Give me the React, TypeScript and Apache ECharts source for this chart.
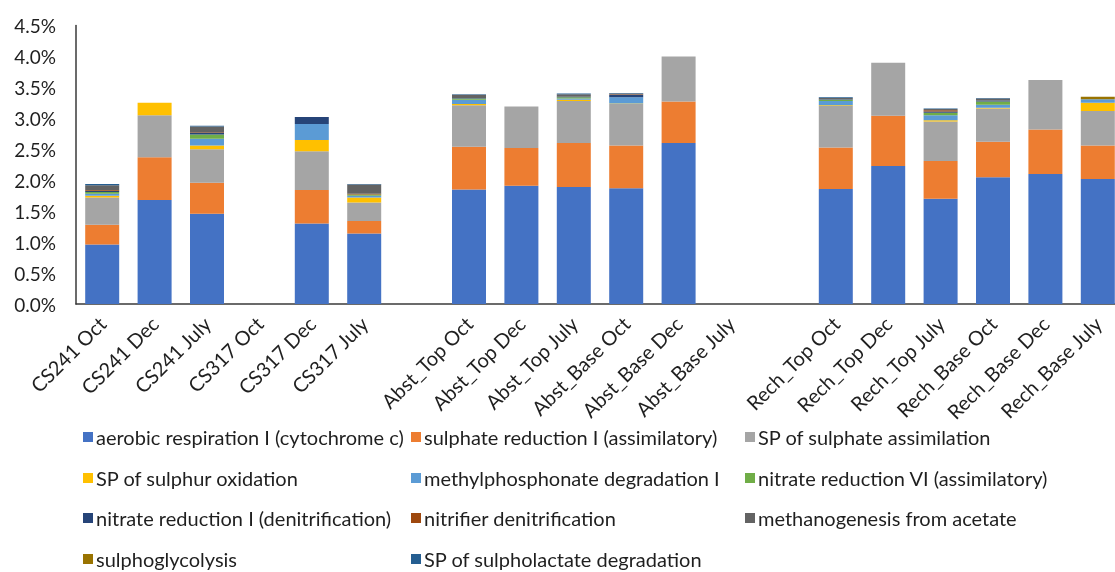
import React, { useEffect, useRef } from "react";
import * as echarts from "echarts";

const categories = [
  "CS241 Oct", "CS241 Dec", "CS241 July", "CS317 Oct", "CS317 Dec", "CS317 July", " ",
  "Abst_Top Oct", "Abst_Top Dec", "Abst_Top July", "Abst_Base Oct", "Abst_Base Dec", "Abst_Base July", "  ",
  "Rech_Top Oct", "Rech_Top Dec", "Rech_Top July", "Rech_Base Oct", "Rech_Base Dec", "Rech_Base July",
];

const yTicks = { min: 0, max: 4.5, interval: 0.5 };

const aerobic = [0.96, 1.68, 1.46, null, 1.30, 1.14, null, 1.85, 1.91, 1.89, 1.87, 2.60, null, null, 1.86, 2.23, 1.70, 2.05, 2.10, 2.02];
const sulphateReduction = [0.32, 0.69, 0.50, null, 0.54, 0.20, null, 0.69, 0.61, 0.71, 0.69, 0.67, null, null, 0.67, 0.81, 0.61, 0.57, 0.72, 0.54];
const sulphateAssim = [0.44, 0.68, 0.54, null, 0.63, 0.30, null, 0.67, 0.67, 0.68, 0.67, 0.73, null, null, 0.67, 0.86, 0.64, 0.54, 0.80, 0.56];
const sulphurOxidation = [0.03, 0.20, 0.06, null, 0.18, 0.08, null, 0.02, 0, 0.02, 0.01, 0, null, null, 0.01, 0, 0.02, 0.01, 0, 0.13];
const methylphosphonate = [0.03, 0, 0.11, null, 0.26, 0.03, null, 0.07, 0, 0.02, 0.10, 0, null, null, 0.07, 0, 0.08, 0.05, 0, 0.06];
const nitrateVI = [0.03, 0, 0.07, null, 0, 0.02, null, 0.02, 0, 0.02, 0, 0, null, null, 0.02, 0, 0.04, 0.05, 0, 0];
const nitrateI = [0.02, 0, 0.03, null, 0.11, 0, null, 0.01, 0, 0.01, 0.04, 0, null, null, 0.01, 0, 0.02, 0.02, 0, 0];
const nitrifier = [0.01, 0, 0.01, null, 0, 0.01, null, 0, 0, 0, 0.01, 0, null, null, 0, 0, 0.02, 0, 0, 0];
const methanogenesis = [0.08, 0, 0.09, null, 0, 0.15, null, 0.05, 0, 0.04, 0.01, 0, null, null, 0.02, 0, 0.02, 0.03, 0, 0];
const sulphoglycolysis = [0, 0, 0, null, 0, 0, null, 0, 0, 0, 0, 0, null, null, 0, 0, 0, 0, 0, 0.04];
const sulpholactate = [0.02, 0, 0.01, null, 0, 0.01, null, 0.01, 0, 0.01, 0.01, 0, null, null, 0.01, 0, 0.01, 0.01, 0, 0];

const seriesNames = [
  "aerobic respiration I (cytochrome c)",
  "sulphate reduction I (assimilatory)",
  "SP of sulphate assimilation",
  "SP of sulphur oxidation",
  "methylphosphonate degradation I",
  "nitrate reduction VI (assimilatory)",
  "nitrate reduction I (denitrification)",
  "nitrifier denitrification",
  "methanogenesis from acetate",
  "sulphoglycolysis",
  "SP of sulpholactate degradation",
];
const seriesData = [
  aerobic, sulphateReduction, sulphateAssim, sulphurOxidation, methylphosphonate,
  nitrateVI, nitrateI, nitrifier, methanogenesis, sulphoglycolysis, sulpholactate,
];
const colors = [
  "#4472C4", "#ED7D31", "#A5A5A5", "#FFC000", "#5B9BD5", "#70AD47",
  "#264478", "#9E480E", "#636363", "#997300", "#255E91",
];

const FONT = "Lato";
const TXT = "#1f1f1f";

export default function App() {
  const ref = useRef<HTMLDivElement>(null);
  useEffect(() => {
    if (!ref.current) return;
    const chart = echarts.init(ref.current, undefined, { renderer: "svg" });
    const colLeft = [83, 411, 745];
    const rowTop = [427, 468, 508, 549];
    const legends = seriesNames.map((name, i) => ({
      orient: "horizontal",
      left: colLeft[i % 3],
      top: rowTop[Math.floor(i / 3)],
      itemWidth: 10,
      itemHeight: 10,
      icon: "rect",
      padding: 0,
      data: [name],
      selectedMode: false,
      textStyle: { fontFamily: FONT, fontSize: 20, color: TXT, lineHeight: 20, padding: [0, 0, 0, -2] },
    }));
    chart.setOption({
      animation: false,
      color: colors,
      textStyle: { fontFamily: FONT },
      grid: { left: 76, right: 0, top: 25.5, bottom: 268, containLabel: false },
      legend: legends,
      xAxis: {
        type: "category",
        data: categories,
        axisLine: { lineStyle: { color: "#3a3a3a", width: 1.5 } },
        axisTick: { show: false },
        axisLabel: {
          interval: 0,
          rotate: 45,
          margin: 16,
          fontFamily: FONT,
          fontSize: 20,
          color: TXT,
        },
      },
      yAxis: {
        type: "value",
        min: yTicks.min,
        max: yTicks.max,
        interval: yTicks.interval,
        splitLine: { show: false },
        axisLine: { show: true, lineStyle: { color: "#3a3a3a", width: 1.5 } },
        axisTick: { show: false },
        axisLabel: {
          margin: 20,
          fontFamily: FONT,
          fontSize: 19,
          color: TXT,
          formatter: (v: number) => v.toFixed(1) + "%",
        },
      },
      series: seriesNames.map((name, i) => ({
        name,
        type: "bar",
        stack: "total",
        barWidth: 34,
        data: seriesData[i],
        itemStyle: { color: colors[i] },
      })),
    });
    return () => chart.dispose();
  }, []);
  return (
    <div
      ref={ref}
      style={{ position: "fixed", left: 0, top: 0, width: 1124, height: 572 }}
    />
  );
}
